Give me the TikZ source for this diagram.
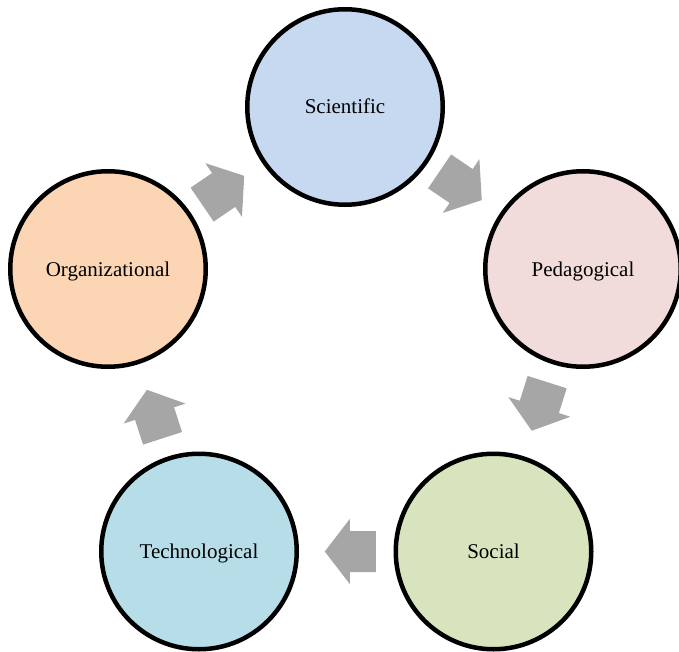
\documentclass[tikz,border=0pt]{standalone}
\usepackage{fontspec}
\setmainfont{Liberation Serif}
\usetikzlibrary{calc}
\definecolor{sciC}{HTML}{C6D9F1}
\definecolor{pedC}{HTML}{F2DCDB}
\definecolor{socC}{HTML}{D7E4BD}
\definecolor{tecC}{HTML}{B7DEE8}
\definecolor{orgC}{HTML}{FCD5B5}
\definecolor{arrC}{HTML}{A6A6A6}
\tikzset{
  cyclenode/.style={circle, draw=black, line width=4.5pt, minimum size=195.5pt, inner sep=0pt, text height=14pt, text depth=0pt, font=\fontsize{21}{24}\selectfont},
  blockarrow/.pic={\fill[arrC] (-29.5,20.5) -- (-3.5,20.5) -- (-3.5,32.5) -- (21.5,0) -- (-3.5,-32.5) -- (-3.5,-20.5) -- (-29.5,-20.5) -- cycle;}
}
\begin{document}
\begin{tikzpicture}[x=1pt,y=-1pt]
\useasboundingbox (0,0) rectangle (679,652);
\node[cyclenode, fill=sciC] (sci) at (345,107) {Scientific};
\node[cyclenode, fill=pedC] (ped) at (583,269) {Pedagogical};
\node[cyclenode, fill=socC] (soc) at (493.5,551.5) {Social};
\node[cyclenode, fill=tecC] (tec) at (199,551.5) {Technological};
\node[cyclenode, fill=orgC] (org) at (108,269) {Organizational};
\foreach \a/\b in {sci/ped, ped/soc, soc/tec, tec/org, org/sci}{
  \path let \p1=($(\b.center)-(\a.center)$), \n1={atan2(\y1,\x1)} in
    ($(\a.center)!0.5!(\b.center)$) pic[rotate=\n1] {blockarrow};
}
\end{tikzpicture}
\end{document}
